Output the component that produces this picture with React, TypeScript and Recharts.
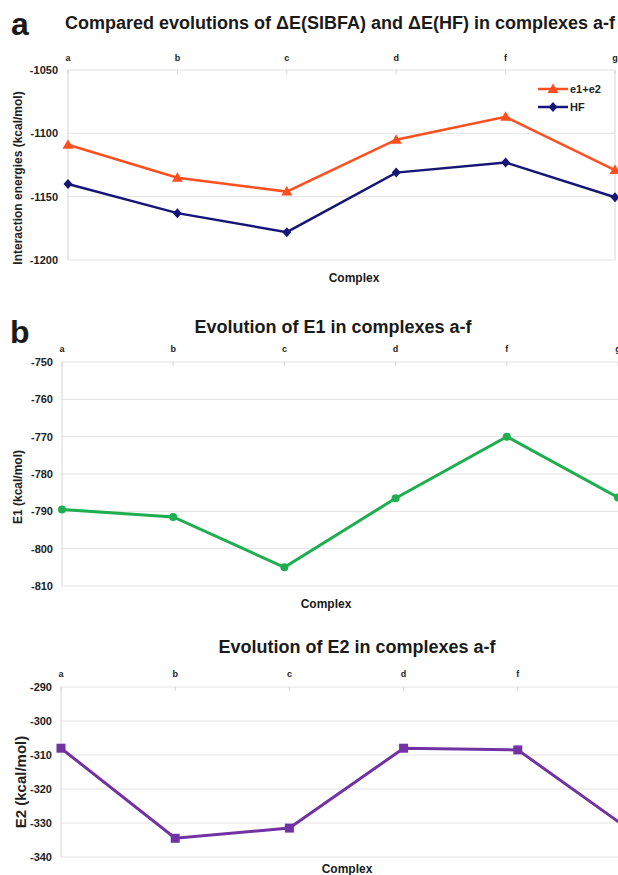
import { LineChart, Line, XAxis, YAxis, CartesianGrid, Legend, ReferenceLine, Label } from "recharts";

const FONT = '"Liberation Sans", Arial, sans-serif';

// complexes along the top axis
const complexes = ["a", "b", "c", "d", "f", "g"];

// panel a: interaction energies (kcal/mol)
const sumE1E2 = [-1109, -1135, -1146, -1105, -1087, -1129];
const hfEnergies = [-1140, -1163, -1178, -1131, -1123, -1150.5];
const ticksA = [-1200, -1150, -1100, -1050];

// panel b: E1 and E2 (kcal/mol)
const e1Values = [-789.5, -791.5, -805, -786.5, -770, -786.3];
const ticksE1 = [-810, -800, -790, -780, -770, -760, -750];
const e2Values = [-308, -334.5, -331.5, -308, -308.5, -332.5];
const ticksE2 = [-340, -330, -320, -310, -300, -290];

const dataA = complexes.map((c, i) => ({ complex: c, sum: sumE1E2[i], hf: hfEnergies[i] }));
const dataE1 = complexes.map((c, i) => ({ complex: c, e1: e1Values[i] }));
const dataE2 = complexes.map((c, i) => ({ complex: c, e2: e2Values[i] }));

const ORANGE = "#ff4f1f";
const NAVY = "#161679";
const GREEN = "#1fae4f";
const PURPLE = "#7232a3";
const GRID = "#e2e2e2";

const tickStyle = { fontSize: 11, fontWeight: "bold", fill: "#222", fontFamily: FONT };
const catStyle = { fontSize: 9, fontWeight: "bold", fill: "#222", fontFamily: FONT };

function triangle(cx: number, cy: number, color: string, key?: any) {
  return <path key={key} d={`M${cx},${cy - 5.5} L${cx + 5.5},${cy + 4} L${cx - 5.5},${cy + 4} Z`} fill={color} />;
}
function diamond(cx: number, cy: number, color: string, key?: any) {
  return <path key={key} d={`M${cx},${cy - 5} L${cx + 4.5},${cy} L${cx},${cy + 5} L${cx - 4.5},${cy} Z`} fill={color} />;
}

const dotShape = (kind: string, color: string) => (p: any) => {
  if (p.cx == null || p.cy == null) return <g key={p.index} />;
  if (kind === "triangle") return triangle(p.cx, p.cy, color, p.index);
  if (kind === "diamond") return diamond(p.cx, p.cy, color, p.index);
  if (kind === "square")
    return <rect key={p.index} x={p.cx - 4.5} y={p.cy - 4.5} width={9} height={9} fill={color} />;
  return <circle key={p.index} cx={p.cx} cy={p.cy} r={4} fill={color} />;
};

const yTitle = (text: string, dx: number, dy: number, size: number) => (props: any) => {
  const vb = props.viewBox || { x: 0, y: 0, width: 0, height: 0 };
  const x = vb.x + dx;
  const y = vb.y + vb.height / 2 + dy;
  return (
    <text
      x={x}
      y={y}
      transform={`rotate(-90 ${x} ${y})`}
      textAnchor="middle"
      dominantBaseline="central"
      fontSize={size}
      fontWeight="bold"
      fill="#222"
      fontFamily={FONT}
    >
      {text}
    </text>
  );
};

const legendOrder = [
  { key: "sum", label: "e1+e2", color: ORANGE, shape: "triangle" },
  { key: "hf", label: "HF", color: NAVY, shape: "diamond" },
];

const renderLegend = () => (
  <svg width={80} height={38} style={{ display: "block" }}>
    {legendOrder.map((it, i) => {
      const y = 9 + i * 18;
      return (
        <g key={it.key}>
          <line x1={2} x2={32} y1={y} y2={y} stroke={it.color} strokeWidth={2.5} />
          {it.shape === "triangle" ? triangle(17, y, it.color) : diamond(17, y, it.color)}
          <text x={34} y={y} dominantBaseline="central" fontSize={11} fontWeight="bold" fill="#222" fontFamily={FONT}>
            {it.label}
          </text>
        </g>
      );
    })}
  </svg>
);

const txt = (s: string, left: number, top: number, size: number, width = 600, center = true) => (
  <div
    style={{
      position: "absolute",
      left: center ? left - width / 2 : left,
      top,
      width,
      textAlign: center ? "center" : "left",
      fontSize: size,
      lineHeight: `${size}px`,
      fontWeight: "bold",
      fontFamily: FONT,
      color: "#1a1a1a",
      whiteSpace: "nowrap",
    }}
  >
    {s}
  </div>
);

export default function App() {
  return (
    <div style={{ position: "absolute", left: 0, top: 0, width: 618, height: 875, overflow: "hidden", background: "#fff" }}>
      {txt("a", 11, 8, 32, 40, false)}
      {txt("Compared evolutions of ΔE(SIBFA) and ΔE(HF) in complexes a-f", 340, 14, 18)}

      <div style={{ position: "absolute", left: 0, top: 40 }}>
        <LineChart width={640} height={250} data={dataA} margin={{ top: 0, right: 25, bottom: 30, left: 0 }}>
          <CartesianGrid vertical={false} stroke={GRID} />
          <XAxis
            dataKey="complex"
            orientation="top"
            height={30}
            axisLine={false}
            tickLine={{ stroke: "#d6d6d6" }}
            tickSize={-4}
            tickMargin={13}
            interval={0}
            tick={catStyle}
          />
          <YAxis
            domain={[-1200, -1050]}
            ticks={ticksA}
            width={68}
            axisLine={{ stroke: "#d6d6d6" }}
            tickLine={false}
            tickSize={4}
            tickMargin={6}
            tick={tickStyle}
          >
            <Label content={yTitle("Interaction energies (kcal/mol)", 18, 13, 12)} />
          </YAxis>
          <ReferenceLine x="g" stroke="#d6d6d6" />
          <Legend
            layout="horizontal"
            verticalAlign="middle"
            align="center"
            content={renderLegend}
            wrapperStyle={{ left: 536, top: 40, width: 80, height: 38 }}
          />
          <Line dataKey="sum" name="e1+e2" stroke={ORANGE} strokeWidth={2.5} dot={dotShape("triangle", ORANGE)} isAnimationActive={false} />
          <Line dataKey="hf" name="HF" stroke={NAVY} strokeWidth={2.5} dot={dotShape("diamond", NAVY)} isAnimationActive={false} />
        </LineChart>
      </div>
      {txt("Complex", 354, 272, 12)}

      {txt("b", 10, 316, 32, 40, false)}
      {txt("Evolution of E1 in complexes a-f", 333, 318, 18)}

      <div style={{ position: "absolute", left: 0, top: 332 }}>
        <LineChart width={640} height={264} data={dataE1} margin={{ top: 0, right: 22, bottom: 10, left: 0 }}>
          <CartesianGrid vertical={false} stroke={GRID} />
          <XAxis
            dataKey="complex"
            orientation="top"
            height={30}
            axisLine={false}
            tickLine={{ stroke: "#d6d6d6" }}
            tickSize={-4}
            tickMargin={14}
            interval={0}
            tick={catStyle}
          />
          <YAxis
            domain={[-810, -750]}
            ticks={ticksE1}
            width={62}
            axisLine={{ stroke: "#d6d6d6" }}
            tickLine={false}
            tickSize={4}
            tickMargin={5}
            tick={tickStyle}
          >
            <Label content={yTitle("E1 (kcal/mol)", 18, 13, 12)} />
          </YAxis>
          <Line dataKey="e1" name="E1" stroke={GREEN} strokeWidth={3} dot={dotShape("circle", GREEN)} isAnimationActive={false} />
        </LineChart>
      </div>
      {txt("Complex", 326, 598, 12)}

      {txt("Evolution of E2 in complexes a-f", 357, 638, 18)}

      <div style={{ position: "absolute", left: 0, top: 657 }}>
        <LineChart width={640} height={212} data={dataE2} margin={{ top: 0, right: 8, bottom: 12, left: 0 }}>
          <CartesianGrid vertical={false} stroke={GRID} />
          <XAxis
            dataKey="complex"
            orientation="top"
            height={30}
            axisLine={false}
            tickLine={{ stroke: "#d6d6d6" }}
            tickSize={-4}
            tickMargin={14}
            interval={0}
            tick={catStyle}
          />
          <YAxis
            domain={[-340, -290]}
            ticks={ticksE2}
            width={61}
            axisLine={{ stroke: "#d6d6d6" }}
            tickLine={false}
            tickSize={4}
            tickMargin={5}
            tick={tickStyle}
          >
            <Label content={yTitle("E2 (kcal/mol)", 20, 10, 15)} />
          </YAxis>
          <Line dataKey="e2" name="E2" stroke={PURPLE} strokeWidth={3} dot={dotShape("square", PURPLE)} isAnimationActive={false} />
        </LineChart>
      </div>
      {txt("Complex", 347, 863, 12)}
    </div>
  );
}
